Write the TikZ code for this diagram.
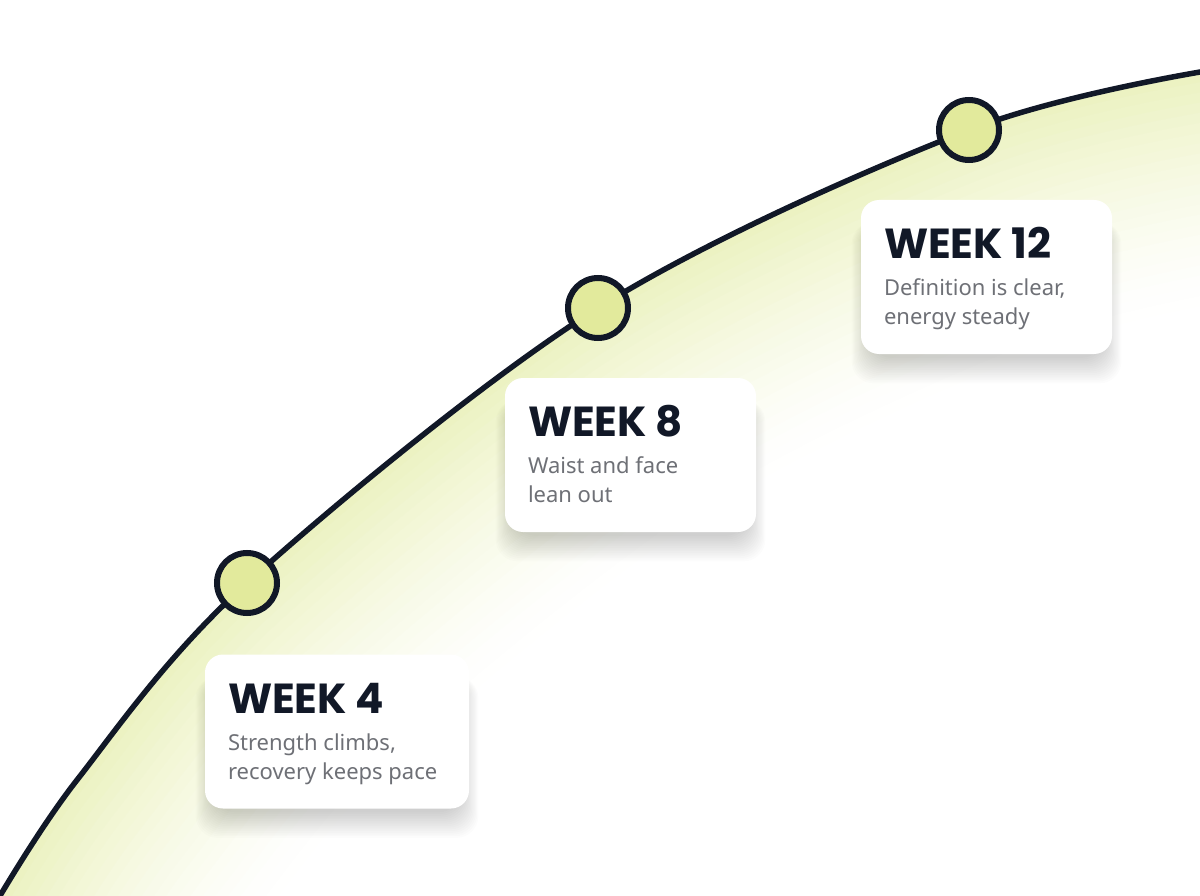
\documentclass[tikz,border=0pt]{standalone}
\usepackage{fontspec}
\setmainfont{Noto Sans}
\newfontfamily\headfont{Poppins}
\usetikzlibrary{calc}
\definecolor{ink}{HTML}{111827}
\definecolor{lime}{HTML}{E2EA9C}
\definecolor{glow}{HTML}{ECF2C2}
\definecolor{muted}{HTML}{6E7076}
\tikzset{
  card/.style={fill=white, rounded corners=18pt, minimum height=154pt, inner sep=0pt},
  dot/.style={circle, draw=ink, line width=6pt, fill=lime, minimum size=60pt, inner sep=0pt},
  head/.style={anchor=base west, inner sep=0pt, text=ink, font=\fontsize{42}{42}\selectfont\headfont\bfseries},
  blurb/.style={anchor=base west, inner sep=0pt, text=muted, align=left, font=\fontsize{22}{29}\selectfont},
  curve/.style={draw=ink, line width=5.5pt}
}
% soft shadow under a card
\newcommand{\softshadow}[1]{%
  \foreach \k in {1,...,16}{%
    \fill[black, opacity=0.01, rounded corners=22pt]
      ($(#1.north west)+(10-1.2*\k, 22)$) rectangle ($(#1.south east)+(-10+1.2*\k, 2+1.7*\k)$);
  }}

\begin{document}
\begin{tikzpicture}[x=1pt, y=-1pt]
  \useasboundingbox (0,0) rectangle (1200,896);
  \fill[white] (0,0) rectangle (1200,896);

  % points on the curve
  \coordinate (start) at (-6,906);
  \coordinate (p4) at (247,583);
  \coordinate (p8) at (598,308);
  \coordinate (p12) at (969,130);
  \coordinate (end) at (1212,70);
  \def\arc{plot[smooth, tension=0.55] coordinates {(start) (77,780) (p4) (p8) (p12) (end)}}

  \begin{scope}
    \clip (0,0) rectangle (1200,896);
    % glow below the curve, widest band first
    \begin{scope}
      \clip \arc -- (1212,906) -- cycle;
      \foreach \i in {0,...,23}{
        \pgfmathsetmacro\w{480-20*\i}
        \pgfmathtruncatemacro\p{100*(\i/23)^1.4}
        \draw[glow!\p!white, line width=\w pt, line cap=round] \arc;
      }
    \end{scope}
    \draw[curve] \arc;
  \end{scope}

  % milestones
  \node[dot] (d4) at (p4) {};
  \node[dot] (d8) at (p8) {};
  \node[dot] (d12) at (p12) {};

  % cards
  \node[card, minimum width=264pt, fill=none] (c4) at (337,731.5) {};
  \node[card, minimum width=251pt, fill=none] (c8) at (630.5,455) {};
  \node[card, minimum width=251pt, fill=none] (c12) at (986.5,277) {};
  \softshadow{c4}
  \softshadow{c8}
  \softshadow{c12}
  \node[card, minimum width=264pt] at (c4) {};
  \node[card, minimum width=251pt] at (c8) {};
  \node[card, minimum width=251pt] at (c12) {};

  \node[head] (h4) at ($(c4.north west)+(23,59)$) {WEEK 4};
  \node[blurb] (b4) at ($(c4.north west)+(23,125)$) {Strength climbs,\\recovery keeps pace};
  \node[head] (h8) at ($(c8.north west)+(23,59)$) {WEEK 8};
  \node[blurb] (b8) at ($(c8.north west)+(23,125)$) {Waist and face\\lean out};
  \node[head] (h12) at ($(c12.north west)+(23,59)$) {WEEK 12};
  \node[blurb] (b12) at ($(c12.north west)+(23,125)$) {Definition is clear,\\energy steady};
\end{tikzpicture}
\end{document}
